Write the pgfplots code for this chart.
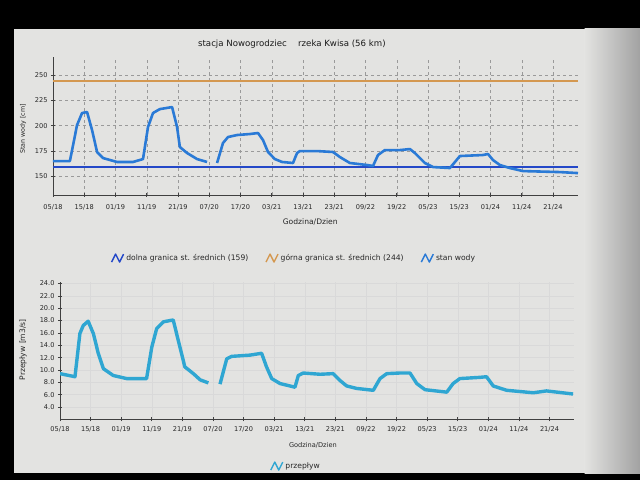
\documentclass[border=0pt]{standalone}
\usepackage{fontspec}
\setmainfont{DejaVu Sans}
\usepackage{pgfplots}
\pgfplotsset{compat=1.18}
\definecolor{bg}{HTML}{E3E3E1}
\definecolor{edge}{HTML}{A2A2A2}
\definecolor{wody}{HTML}{2A7AD6}
\definecolor{dolna}{HTML}{2448C8}
\definecolor{gorna}{HTML}{D49850}
\definecolor{przep}{HTML}{2FA6D2}
\definecolor{gridc}{HTML}{9A9A9A}
\begin{document}
\begin{tikzpicture}
\fill[black] (0pt,0pt) rectangle (640pt,480pt);
\fill[bg] (14pt,7pt) rectangle (585pt,451pt);
\shade[left color=bg,right color=edge] (584.5pt,7pt) rectangle (640pt,451pt);

\pgfplotsset{
  common/.style={
    scale only axis, anchor=south west,
    xmin=0, xmax=168,
    axis lines=left,
    axis line style={-, black!75, line width=0.8pt},
    xtick={0,10,...,160},
    xticklabels={05/18,15/18,01/19,11/19,21/19,07/20,17/20,03/21,13/21,23/21,09/22,19/22,05/23,15/23,01/24,11/24,21/24},
    tick align=center, major tick length=4pt,
    tick style={black!75, line width=0.6pt},
    ticklabel style={font=\fontsize{6.6}{7}\selectfont, text=black!85},
    /pgf/number format/assume math mode=true,
    label style={font=\fontsize{6.3}{7}\selectfont, text=black!85},
    legend style={draw=none, fill=none, font=\fontsize{7.6}{9}\selectfont, text=black!85,
      /tikz/every even column/.append style={column sep=15pt}},
    legend image code/.code={\draw[##1, line width=1.4pt, line join=round] (0pt,-4pt)--(4pt,4pt)--(8pt,-4pt)--(12pt,4pt);},
  }
}

\begin{axis}[common,
  at={(53pt,285pt)}, width=525pt, height=138pt,
  ymin=131.3, ymax=268,
  ytick={150,175,200,225,250},
  grid=major, grid style={dashed, gridc, line width=0.5pt},
  xticklabel style={yshift=-4pt},
  title={stacja Nowogrodziec \quad rzeka Kwisa (56 km)},
  title style={at={(axis description cs:0.455,1.05)}, anchor=center, yshift=0pt, font=\fontsize{8.6}{10}\selectfont, text=black!90},
  xlabel={Godzina/Dzien},
  xlabel style={at={(axis description cs:0.49,-0.193)}, anchor=center, font=\fontsize{7.6}{9}\selectfont},
  ylabel={Stan wody [cm]},
  ylabel style={at={(axis description cs:-0.057,0.478)}, anchor=center},
  legend columns=3,
  legend style={at={(axis description cs:0.459,-0.457)}, anchor=center},
]
\addplot[dolna, line width=1.5pt] coordinates {(0,159) (168,159)};
\addlegendentry{dolna granica st. średnich (159)}
\addplot[gorna, line width=1.9pt] coordinates {(0,244) (168,244)};
\addlegendentry{górna granica st. średnich (244)}
\addplot[wody, line width=2.6pt, line join=round, forget plot] coordinates {
(0,164.9) (5.4,164.9) (7.7,200.6) (9.3,212.5) (10.9,213.5) (12.5,195.6)
(14.1,173.9) (16,167.9) (20.5,164) (25.6,164) (28.8,166.9) (30.4,198.6)
(32,212.5) (34.2,216.4) (38.1,218.4) (39.7,198.6) (40.6,178.8) (42.9,172.9)
(46.1,166.9) (49.3,164)};
\addplot[wody, line width=2.6pt, line join=round] coordinates {
(52.5,163) (54.4,182.8) (56,188.7) (58.9,190.7) (63,191.7) (65.6,192.7)
(67.2,185.7) (68.8,173.9) (71,166.9) (73.3,164) (76.8,163) (78.1,172.9)
(79,174.8) (84.5,174.8) (89.6,173.9) (91.8,168.9) (95,163) (100.5,161)
(102.4,160) (104,170.9) (106.2,175.8) (111,175.8) (114.2,176.8) (115.8,172.9)
(119,163) (121.6,159) (127,158) (128.6,163.9) (130.2,169.9) (137.6,170.9)
(139.2,171.9) (140.8,165.9) (143,161) (146.2,158) (150.4,155) (162.2,154) (168,153)};
\addlegendentry{stan wody}
\end{axis}

\begin{axis}[common,
  at={(60pt,60.7pt)}, width=514pt, height=137.6pt,
  ymin=2, ymax=24.3,
  ytick={4,6,...,24},
  yticklabel style={/pgf/number format/.cd, fixed, fixed zerofill, precision=1},
  grid=major, grid style={solid, gray!30, line width=0.4pt},
  xticklabel style={yshift=-2pt},
  xlabel={Godzina/Dzien},
  xlabel style={at={(axis description cs:0.492,-0.192)}, anchor=center, font=\fontsize{6.6}{8}\selectfont},
  ylabel={Przepływ [m3/s]},
  ylabel style={at={(axis description cs:-0.072,0.505)}, anchor=center, font=\fontsize{7.6}{9}\selectfont},
  legend style={at={(axis description cs:0.459,-0.34)}, anchor=center},
]
\addplot[przep, line width=3.4pt, line join=round, forget plot] coordinates {
(0,9.4) (4.9,8.9) (6.5,15.9) (7.6,17.2) (9.2,17.9) (10.9,15.9) (12.5,12.7)
(14.2,10.2) (17.4,9.1) (21.8,8.6) (28.3,8.6) (30,13.7) (31.6,16.7) (33.8,17.8)
(37,18.1) (39.2,13.7) (40.8,10.5) (43.6,9.4) (45.8,8.4) (48.5,7.9)};
\addplot[przep, line width=3.4pt, line join=round] coordinates {
(52.3,7.7) (54.5,11.8) (56.1,12.2) (62.1,12.4) (65.9,12.7) (67.5,10.5)
(69.2,8.6) (71.9,7.8) (76.8,7.2) (77.9,9.1) (79.5,9.5) (85,9.3) (89.3,9.4)
(91.5,8.3) (93.7,7.4) (97,7.0) (102.4,6.7) (104.6,8.6) (106.8,9.4) (111,9.5)
(114.4,9.5) (116.6,7.8) (119.3,6.8) (126.4,6.4) (128.5,7.8) (130.7,8.6)
(137.3,8.8) (139.4,8.9) (141.6,7.4) (146,6.7) (154.7,6.3) (159,6.6) (167.7,6.1)};
\addlegendentry{przepływ}
\end{axis}
\end{tikzpicture}
\end{document}
